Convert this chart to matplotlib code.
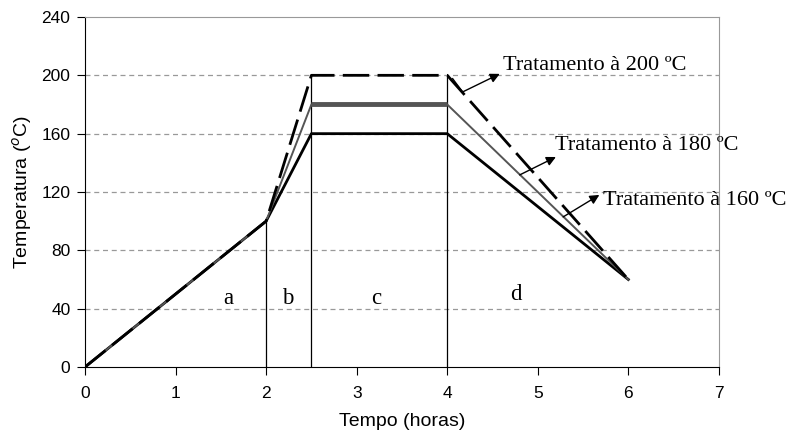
import matplotlib.pyplot as plt

# dados
tempo = [0, 2, 2.5, 4, 6]
temp_200 = [0, 100, 200, 200, 60]
temp_180 = [0, 100, 180, 180, 60]
temp_160 = [0, 100, 160, 160, 60]

# divisões das etapas (x, altura)
divisoes_x = [2, 2.5, 4]
divisoes_y = [100, 200, 200]

etapas = ['a', 'b', 'c', 'd']
etapas_x = [1.58, 2.24, 3.22, 4.76]
etapas_y = [47, 47, 47, 50]

rotulos = ['Tratamento à 200 ºC', 'Tratamento à 180 ºC', 'Tratamento à 160 ºC']
rotulos_pos = [(4.62, 207), (5.19, 152), (5.715, 114.5)]
setas_ini = [(4.17, 188.6), (4.80, 131.7), (5.28, 102.9)]
setas_fim = [(4.58, 201), (5.20, 144), (5.68, 118)]

fig, ax = plt.subplots(figsize=(7.9, 4.3), dpi=100)
fig.subplots_adjust(left=0.1076, right=0.910, top=0.9605, bottom=0.1465)

for y in [40, 80, 120, 160, 200]:
    ax.axhline(y, color='#999999', linestyle=(0, (4, 3)), linewidth=0.9, zorder=1)

ax.vlines(divisoes_x, 0, divisoes_y, color='black', linewidth=0.9, zorder=2)

ax.plot(tempo, temp_160, color='black', linewidth=2, zorder=3)
ax.plot(tempo, temp_180, color='#555555', linewidth=1.4, zorder=4)
ax.plot(tempo[2:4], temp_180[2:4], color='#555555', linewidth=3.5,
        solid_capstyle='butt', zorder=4)
ax.plot(tempo, temp_200, color='black', linewidth=2, linestyle=(0, (9.5, 3)), zorder=5)

for txt, xx, yy in zip(etapas, etapas_x, etapas_y):
    ax.text(xx, yy, txt, ha='center', va='center', fontsize=16.5,
            family='Liberation Serif')

# pequeno traço antes da seta de 200
ax.plot([4.06, 4.17], [197.7, 188.6], color='black', linewidth=1, zorder=6)
for txt, pos, ini, fim in zip(rotulos, rotulos_pos, setas_ini, setas_fim):
    ax.annotate('', xy=fim, xytext=ini,
                arrowprops=dict(arrowstyle='-|>', color='black', lw=1,
                                mutation_scale=14, shrinkA=0, shrinkB=0),
                zorder=6)
    ax.text(pos[0], pos[1], txt, ha='left', va='center', fontsize=16,
            family='Liberation Serif', clip_on=False)

ax.set_xlim(0, 7)
ax.set_ylim(0, 240)
ax.set_xticks(range(0, 8))
ax.set_yticks(range(0, 241, 40))
ax.tick_params(direction='out', length=5.5, labelsize=12.5, colors='black')
ax.tick_params(axis='x', pad=8)
ax.tick_params(axis='y', pad=5)
for lab in ax.get_xticklabels() + ax.get_yticklabels():
    lab.set_family('Liberation Sans')

ax.spines['top'].set_color('#999999')
ax.spines['right'].set_color('#999999')
ax.spines['left'].set_color('black')
ax.spines['bottom'].set_color('black')

ax.set_xlabel('Tempo (horas)', fontsize=14, family='Liberation Sans', labelpad=9)
ax.set_ylabel('Temperatura ($^{o}$C)', fontsize=14, family='Liberation Sans', labelpad=5)

plt.savefig('out.png', dpi=100)
